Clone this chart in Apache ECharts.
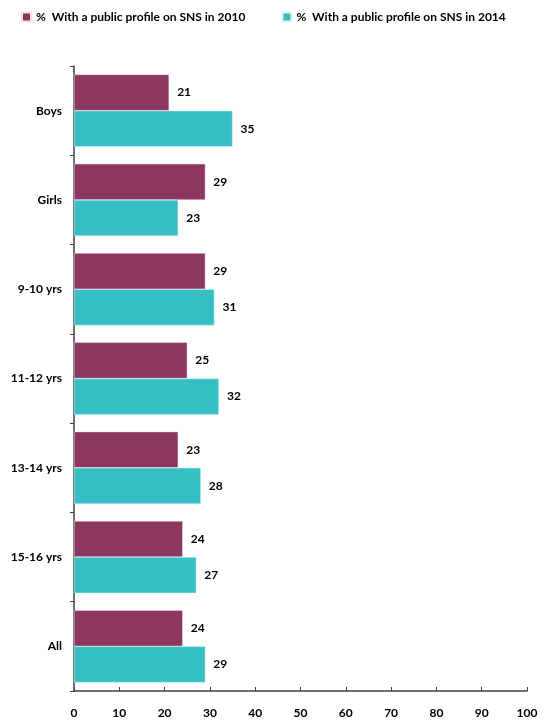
<!DOCTYPE html>
<html>
<head>
<meta charset="utf-8">
<script src="https://cdn.jsdelivr.net/npm/echarts@6/dist/echarts.min.js"></script>
<style>
  html, body { margin: 0; padding: 0; background: #fff; }
  #chart { width: 552px; height: 722px; }
</style>
</head>
<body>
<div id="chart"></div>
<script>
  // categories, top to bottom
  var categories = ['Boys', 'Girls', '9-10 yrs', '11-12 yrs', '13-14 yrs', '15-16 yrs', 'All'];
  var seriesNames = ['%  With a public profile on SNS in 2010', '%  With a public profile on SNS in 2014'];
  var values2010 = [21, 29, 29, 25, 23, 24, 24];
  var values2014 = [35, 23, 31, 32, 28, 27, 29];

  var fontFamily = 'Lato, "Open Sans", sans-serif';
  var myChart = echarts.init(document.getElementById('chart'));

  var labelStyle = {
    show: true,
    position: 'right',
    distance: 8,
    color: '#000',
    fontWeight: 'bold',
    fontSize: 12,
    fontFamily: fontFamily
  };

  myChart.setOption({
    animation: false,
    color: ['#8B3760', '#36BFC4'],
    legend: {
      data: seriesNames,
      left: 16,
      top: 6,
      itemWidth: 9,
      itemHeight: 9,
      itemGap: 36,
      icon: 'rect',
      textStyle: { color: '#000', fontWeight: 'bold', fontSize: 12, fontFamily: fontFamily }
    },
    grid: {
      left: 74,
      right: 25,
      top: 66,
      bottom: 31,
      containLabel: false
    },
    xAxis: {
      type: 'value',
      min: 0,
      max: 100,
      interval: 10,
      splitLine: { show: false },
      axisLine: { show: true, lineStyle: { color: '#404040', width: 1.5 } },
      axisTick: { show: true, inside: true, length: 4, lineStyle: { color: '#404040' } },
      axisLabel: { color: '#000', fontWeight: 'bold', fontSize: 12, fontFamily: fontFamily, margin: 16 }
    },
    yAxis: {
      type: 'category',
      inverse: true,
      data: categories,
      axisLine: { show: true, lineStyle: { color: '#404040', width: 1.5 } },
      axisTick: { show: true, length: 4, lineStyle: { color: '#404040' } },
      axisLabel: { color: '#000', fontWeight: 'bold', fontSize: 12, fontFamily: fontFamily, margin: 12 }
    },
    series: [
      {
        name: seriesNames[0],
        type: 'bar',
        data: values2010,
        barGap: '0%',
        barCategoryGap: '19%',
        itemStyle: { borderColor: '#f0e0ea', borderWidth: 0.5 },
        label: labelStyle
      },
      {
        name: seriesNames[1],
        type: 'bar',
        data: values2014,
        itemStyle: { borderColor: '#d8f4f5', borderWidth: 0.5 },
        label: labelStyle
      }
    ]
  });
</script>
</body>
</html>
